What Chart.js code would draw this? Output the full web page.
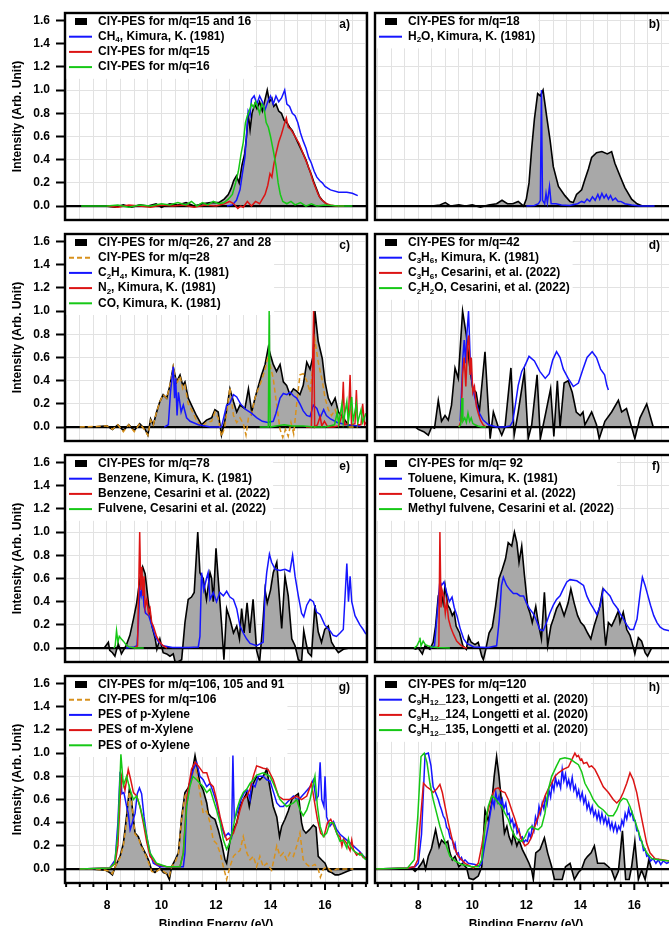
<!DOCTYPE html>
<html><head><meta charset="utf-8">
<script src="https://cdn.jsdelivr.net/npm/chart.js@4.4.0/dist/chart.umd.min.js"></script>
<style>
html,body{margin:0;padding:0;background:#fff;overflow:hidden;width:669px;height:926px;}
canvas{position:absolute;}
</style></head><body>
<script>
// ---------------- data: [binding energy (eV), intensity] ----------------
const a_ciy=[[7.0,0],[8.0,0],[8.3,-0.01],[8.6,0.01],[8.9,-0.01],[9.2,0.01],[9.5,0],[9.8,0.02],[10.0,-0.01],[10.3,0.02],[10.6,0.01],[10.9,0.03],[11.2,0.0],[11.5,0.02],[11.8,0.03],[12.1,0.03],[12.3,0.06],[12.45,0.1],[12.55,0.15],[12.65,0.22],[12.75,0.26],[12.85,0.2],[12.95,0.35],[13.05,0.45],[13.12,0.6],[13.18,0.8],[13.25,0.66],[13.32,0.8],[13.42,0.88],[13.5,0.84],[13.6,0.9],[13.7,0.82],[13.8,0.92],[13.88,1.0],[13.96,0.9],[14.05,0.93],[14.12,0.86],[14.2,0.88],[14.3,0.82],[14.4,0.8],[14.5,0.74],[14.6,0.72],[14.7,0.68],[14.8,0.65],[14.9,0.6],[15.0,0.55],[15.1,0.5],[15.2,0.45],[15.3,0.4],[15.4,0.33],[15.5,0.27],[15.6,0.2],[15.7,0.14],[15.8,0.08],[15.9,0.05],[16.0,0.03],[16.1,0.01],[16.2,0]];
const a_ch4=[[12.4,0],[12.6,0.01],[12.75,0.05],[12.88,0.14],[12.98,0.3],[13.06,0.42],[13.12,0.62],[13.18,0.82],[13.25,0.78],[13.3,0.92],[13.4,0.95],[13.5,0.88],[13.6,0.95],[13.7,0.9],[13.78,0.82],[13.9,0.9],[14.0,0.95],[14.1,0.88],[14.2,0.95],[14.3,0.9],[14.4,0.93],[14.52,1.0],[14.6,0.88],[14.7,0.86],[14.8,0.8],[14.9,0.78],[15.0,0.72],[15.1,0.63],[15.2,0.56],[15.3,0.5],[15.4,0.42],[15.5,0.37],[15.6,0.3],[15.7,0.25],[15.8,0.22],[15.9,0.2],[16.0,0.17],[16.2,0.14],[16.5,0.12],[16.8,0.12],[17.0,0.11],[17.2,0.09]];
const a_mq15=[[8.0,0],[8.4,-0.01],[8.8,0.01],[9.2,0],[9.6,-0.01],[10.0,0.01],[10.4,0],[10.8,0.01],[11.2,-0.01],[11.6,0.01],[12.0,0],[12.3,0.02],[12.5,0.04],[12.65,0.02],[12.8,-0.02],[12.9,0.0],[13.0,-0.01],[13.15,0.04],[13.3,0.0],[13.45,0.04],[13.6,0.02],[13.7,0.06],[13.8,0.1],[13.9,0.18],[13.98,0.28],[14.05,0.25],[14.12,0.36],[14.2,0.45],[14.3,0.55],[14.4,0.62],[14.5,0.7],[14.58,0.76],[14.65,0.68],[14.75,0.66],[14.85,0.62],[14.95,0.58],[15.05,0.54],[15.15,0.48],[15.25,0.42],[15.35,0.36],[15.45,0.3],[15.55,0.22],[15.65,0.16],[15.75,0.1],[15.85,0.06],[15.95,0.04],[16.05,0.02],[16.2,0.01],[16.4,0.0],[16.7,0]];
const a_mq16=[[7.05,0],[8.0,0.0],[8.4,0.01],[8.8,-0.01],[9.2,0.01],[9.6,0.0],[10.0,0.02],[10.3,0.01],[10.6,0.03],[10.9,0.01],[11.1,0.04],[11.3,0.0],[11.5,0.03],[11.7,0.01],[11.9,0.04],[12.1,0.02],[12.3,0.03],[12.45,0.06],[12.6,0.1],[12.72,0.2],[12.82,0.3],[12.92,0.45],[13.0,0.55],[13.08,0.72],[13.15,0.78],[13.22,0.82],[13.3,0.88],[13.38,0.85],[13.45,0.9],[13.52,0.86],[13.6,0.8],[13.68,0.88],[13.76,0.85],[13.84,0.72],[13.92,0.68],[14.0,0.6],[14.1,0.48],[14.2,0.35],[14.28,0.2],[14.36,0.1],[14.45,0.04],[14.6,0.02],[14.75,0.04],[14.9,0.01],[15.1,0.03],[15.3,0.0],[15.5,0.02],[15.7,0.0],[16.0,0.01],[16.5,0],[17.0,0]];

const b_ciy=[[6.4,0],[7.5,0],[8.0,0],[8.5,0.0],[8.8,0.01],[9.0,0.03],[9.2,0.0],[9.5,0.01],[9.75,0.0],[10.0,0.01],[10.3,-0.01],[10.6,0.01],[10.9,0.02],[11.1,0.05],[11.3,0.02],[11.5,0.02],[11.7,0.04],[11.9,0.0],[12.0,0.06],[12.1,0.2],[12.2,0.5],[12.3,0.75],[12.42,0.97],[12.52,0.95],[12.62,1.0],[12.75,0.78],[12.88,0.57],[13.0,0.34],[13.19,0.17],[13.43,0.09],[13.62,0.04],[13.74,0.03],[13.86,0.1],[14.05,0.14],[14.17,0.23],[14.3,0.32],[14.42,0.42],[14.6,0.46],[14.8,0.47],[15.0,0.45],[15.16,0.47],[15.28,0.37],[15.47,0.26],[15.65,0.16],[15.9,0.06],[16.1,0.02],[16.3,0.0],[16.45,0]];
const b_h2o=[[12.0,0],[12.3,0.005],[12.45,0.02],[12.52,0.05],[12.56,1.0],[12.6,0.05],[12.68,0.02],[12.73,0.11],[12.78,0.03],[12.86,0.17],[12.92,0.02],[13.1,0.02],[13.3,0.01],[13.6,0.005],[13.9,0.02],[14.05,0.04],[14.15,0.03],[14.25,0.06],[14.35,0.04],[14.45,0.08],[14.55,0.05],[14.65,0.1],[14.72,0.06],[14.8,0.11],[14.88,0.07],[14.96,0.1],[15.04,0.06],[15.12,0.09],[15.2,0.05],[15.3,0.07],[15.4,0.04],[15.5,0.04],[15.65,0.02],[15.9,0.01],[16.2,0.0],[16.75,0]];

const c_ciy=[[7.0,0],[7.5,0],[8.0,0.01],[8.2,-0.02],[8.4,0.02],[8.6,-0.03],[8.8,0.02],[9.0,-0.03],[9.2,0.03],[9.4,-0.02],[9.5,-0.07],[9.6,0.07],[9.7,0.02],[9.82,0.13],[9.94,0.22],[10.06,0.28],[10.19,0.25],[10.31,0.36],[10.43,0.52],[10.55,0.39],[10.68,0.45],[10.78,0.36],[10.86,0.39],[10.98,0.25],[11.1,0.19],[11.28,0.1],[11.47,0.02],[11.65,0.06],[11.84,0.08],[11.96,0.15],[12.08,0.13],[12.2,-0.07],[12.32,0.05],[12.51,0.33],[12.64,0.22],[12.76,0.13],[12.88,0.19],[13.06,0.16],[13.19,0.33],[13.31,0.13],[13.43,0.25],[13.55,0.35],[13.67,0.45],[13.8,0.54],[13.92,0.69],[14.0,0.62],[14.1,0.54],[14.22,0.48],[14.35,0.54],[14.47,0.39],[14.59,0.36],[14.71,0.28],[14.84,0.33],[14.96,0.31],[15.08,0.28],[15.2,0.36],[15.33,0.56],[15.45,0.5],[15.57,0.62],[15.63,1.0],[15.75,0.74],[15.9,0.59],[16.0,0.39],[16.12,0.25],[16.24,0.19],[16.37,0.25],[16.49,0.13],[16.67,0.08],[16.85,0.02],[17.1,0],[17.4,0]];
const c_mq28=[[7.0,0],[8.0,0.01],[8.2,-0.02],[8.4,0.02],[8.6,-0.04],[8.8,0.02],[9.0,-0.04],[9.2,0.03],[9.4,-0.03],[9.5,-0.07],[9.6,0.06],[9.7,0.02],[9.82,0.13],[9.94,0.22],[10.06,0.28],[10.19,0.25],[10.31,0.36],[10.43,0.52],[10.55,0.37],[10.68,0.44],[10.78,0.33],[10.86,0.36],[10.98,0.2],[11.1,0.15],[11.28,0.06],[11.47,0.0],[11.65,0.04],[11.84,0.05],[11.96,0.13],[12.08,0.08],[12.2,-0.08],[12.32,0.0],[12.51,0.34],[12.64,0.1],[12.76,0.04],[12.88,0.08],[13.0,0.03],[13.1,-0.07],[13.19,0.08],[13.31,0.12],[13.43,0.25],[13.55,0.33],[13.67,0.4],[13.8,0.5],[13.92,0.62],[14.0,0.52],[14.1,0.42],[14.22,0.2],[14.35,-0.02],[14.45,-0.09],[14.55,-0.02],[14.65,-0.08],[14.75,0.04],[14.85,-0.06],[14.96,0.2],[15.08,0.45],[15.2,0.46],[15.33,0.4],[15.45,0.3],[15.57,0.55],[15.63,0.75],[15.75,0.56],[15.9,0.4],[16.0,0.25],[16.12,0.15],[16.24,0.1],[16.37,0.15],[16.49,0.06],[16.67,0.04],[16.85,0.0],[17.2,0]];
const c_c2h4=[[10.1,0],[10.25,0.02],[10.33,0.3],[10.43,0.52],[10.48,0.25],[10.52,0.42],[10.57,0.1],[10.62,0.3],[10.72,0.13],[10.8,0.19],[10.92,0.08],[11.05,0.05],[11.35,0.02],[11.8,0.0],[12.2,0.0],[12.39,0.19],[12.5,0.2],[12.64,0.28],[12.76,0.26],[12.9,0.2],[13.1,0.15],[13.3,0.12],[13.5,0.08],[13.7,0.05],[13.9,0.04],[14.1,0.05],[14.2,0.12],[14.35,0.25],[14.47,0.29],[14.6,0.28],[14.72,0.3],[14.84,0.27],[14.96,0.25],[15.08,0.2],[15.2,0.14],[15.33,0.1],[15.45,0.09],[15.57,0.19],[15.7,0.16],[15.82,0.08],[15.95,0.15],[16.05,0.1],[16.2,0.07],[16.45,0.04],[16.8,0.02],[17.3,0.01]];
const c_n2=[[15.3,0],[15.5,0.0],[15.55,0.6],[15.58,1.0],[15.62,0.0],[15.72,0.02],[15.82,0.09],[15.88,0.01],[15.98,0.05],[16.1,0.0],[16.3,0.0],[16.5,0.01],[16.62,0.1],[16.67,0.39],[16.72,0.02],[16.85,0.03],[16.92,0.45],[16.97,0.02],[17.1,0.03],[17.15,0.32],[17.2,0.02],[17.32,0.02],[17.38,0.2],[17.45,0.02],[17.54,0.05]];
const c_co=[[13.6,0],[13.92,0.0],[13.95,1.0],[13.99,0.0],[14.2,0.01],[14.5,0.02],[14.8,0.01],[15.2,0.01],[15.6,0.0],[16.0,0.0],[16.35,0.02],[16.45,0.13],[16.5,0.03],[16.62,0.2],[16.67,0.04],[16.8,0.22],[16.85,0.04],[16.98,0.26],[17.03,0.05],[17.15,0.2],[17.2,0.04],[17.32,0.15],[17.38,0.04],[17.5,0.12]];

const d_ciy=[[6.4,0],[7.5,0],[7.9,0.0],[8.0,-0.02],[8.2,-0.04],[8.37,-0.07],[8.49,0.0],[8.6,-0.01],[8.74,0.23],[8.86,0.05],[8.99,0.1],[9.11,0.06],[9.23,0.19],[9.36,0.51],[9.48,0.42],[9.64,1.0],[9.78,0.79],[9.9,0.53],[10.02,0.33],[10.14,0.3],[10.26,0.13],[10.47,0.65],[10.6,0.13],[10.66,-0.1],[10.78,0.13],[10.96,0.0],[11.09,-0.07],[11.21,0.0],[11.43,0.51],[11.55,-0.07],[11.7,0.13],[11.93,0.48],[12.07,-0.1],[12.2,0.02],[12.4,0.45],[12.52,-0.1],[12.7,0.1],[12.9,0.33],[13.02,-0.08],[13.15,0.4],[13.25,0.0],[13.4,0.38],[13.55,0.4],[13.7,0.3],[13.85,0.13],[14.0,0.1],[14.1,0.13],[14.17,0.02],[14.42,0.13],[14.6,0.02],[14.7,-0.1],[14.91,0.05],[15.16,0.13],[15.41,0.23],[15.53,0.13],[15.71,0.16],[15.9,0.0],[16.02,-0.1],[16.21,0.08],[16.46,0.2],[16.7,0.0],[17.0,0],[17.6,0]];
const d_c3h6k=[[9.55,0.05],[9.6,0.3],[9.65,0.6],[9.7,0.75],[9.75,0.55],[9.8,0.8],[9.86,1.0],[9.92,0.6],[9.98,0.4],[10.05,0.3],[10.15,0.2],[10.26,0.12],[10.4,0.06],[10.6,0.02],[10.9,0.0],[11.2,0.0],[11.4,0.01],[11.5,0.05],[11.6,0.2],[11.7,0.36],[11.83,0.48],[11.95,0.53],[12.1,0.61],[12.3,0.57],[12.5,0.48],[12.7,0.42],[12.85,0.46],[12.98,0.58],[13.12,0.65],[13.25,0.6],[13.37,0.5],[13.55,0.42],[13.74,0.35],[13.93,0.38],[14.1,0.5],[14.25,0.6],[14.44,0.65],[14.6,0.6],[14.75,0.5],[14.9,0.45],[14.98,0.36],[15.04,0.32]];
const d_c3h6c=[[9.5,0],[9.58,0.05],[9.64,0.45],[9.7,0.6],[9.76,0.35],[9.82,0.7],[9.87,0.79],[9.92,0.45],[9.96,0.6],[10.02,0.3],[10.08,0.35],[10.15,0.18],[10.22,0.12],[10.3,0.06],[10.4,0.02],[10.5,0.0]];
const d_c2h2o=[[9.5,0],[9.57,0.02],[9.62,0.25],[9.65,0.05],[9.72,0.08],[9.78,0.04],[9.84,0.12],[9.9,0.05],[9.96,0.08],[10.02,0.03],[10.1,0.02],[10.2,0.01],[10.35,0.0],[10.5,0]];

const e_ciy=[[7.9,0],[8.05,0.05],[8.1,-0.02],[8.2,-0.04],[8.29,-0.07],[8.41,0.04],[8.53,-0.05],[8.7,0.02],[8.84,0.11],[8.97,0.25],[9.09,0.39],[9.21,0.6],[9.31,0.7],[9.4,0.64],[9.52,0.39],[9.65,0.19],[9.77,0.08],[9.83,-0.01],[9.94,0.08],[10.06,-0.04],[10.19,-0.05],[10.31,-0.07],[10.43,-0.05],[10.5,-0.12],[10.6,-0.12],[10.74,-0.1],[10.86,0.22],[10.98,0.42],[11.1,0.44],[11.2,0.48],[11.33,1.0],[11.41,0.65],[11.53,0.6],[11.65,0.42],[11.78,0.65],[11.84,0.6],[11.9,0.4],[12.0,0.86],[12.08,0.6],[12.2,0.22],[12.29,-0.1],[12.39,0.34],[12.51,0.25],[12.64,0.13],[12.76,0.19],[12.86,0.08],[12.94,0.34],[13.03,0.13],[13.14,0.39],[13.24,0.13],[13.36,0.42],[13.49,-0.02],[13.6,-0.12],[13.73,0.25],[13.8,0.5],[13.88,0.39],[14.0,0.5],[14.1,0.65],[14.23,0.74],[14.33,0.42],[14.41,0.17],[14.53,0.62],[14.65,0.45],[14.78,0.08],[14.9,0.02],[15.02,-0.1],[15.14,-0.12],[15.22,0.15],[15.3,0.05],[15.38,-0.04],[15.5,-0.07],[15.63,0.37],[15.75,0.14],[15.87,0.05],[15.99,0.16],[16.12,0.19],[16.24,0.05],[16.37,0.0],[16.49,-0.04],[16.67,-0.01],[16.9,0],[17.2,0]];
const e_benz_k=[[8.7,0],[9.0,0.01],[9.1,0.02],[9.15,0.2],[9.2,0.5],[9.25,0.45],[9.3,0.54],[9.36,0.36],[9.42,0.3],[9.53,0.28],[9.65,0.19],[9.77,0.1],[9.9,0.05],[10.06,0.02],[10.4,0.005],[11.0,0.005],[11.35,0.01],[11.41,0.1],[11.47,0.65],[11.55,0.5],[11.65,0.6],[11.71,0.65],[11.78,0.42],[11.9,0.48],[12.02,0.4],[12.14,0.48],[12.27,0.45],[12.39,0.49],[12.51,0.44],[12.64,0.42],[12.76,0.34],[12.88,0.19],[13.0,0.13],[13.12,0.08],[13.25,0.04],[13.49,0.02],[13.73,0.05],[13.8,0.5],[13.86,0.65],[13.96,0.81],[14.04,0.74],[14.17,0.68],[14.35,0.67],[14.53,0.68],[14.71,0.66],[14.81,0.8],[14.9,0.62],[15.02,0.45],[15.14,0.3],[15.22,0.27],[15.33,0.37],[15.45,0.42],[15.57,0.4],[15.69,0.31],[15.82,0.29],[15.99,0.2],[16.18,0.15],[16.3,0.11],[16.42,0.1],[16.55,0.13],[16.67,0.16],[16.8,0.73],[16.86,0.4],[16.92,0.62],[16.98,0.4],[17.1,0.28],[17.28,0.2],[17.4,0.16],[17.5,0.12]];
const e_benz_c=[[9.0,0],[9.12,0.02],[9.17,0.6],[9.2,1.0],[9.24,0.5],[9.28,0.7],[9.32,0.45],[9.36,0.62],[9.4,0.35],[9.46,0.42],[9.52,0.3],[9.58,0.34],[9.64,0.22],[9.7,0.19],[9.82,0.1],[9.94,0.05],[10.06,0.02],[10.2,0]];
const e_fulv=[[8.25,0],[8.3,0.02],[8.35,0.15],[8.4,0.05],[8.45,0.1],[8.52,0.08],[8.6,0.06],[8.7,0.03],[8.8,0.01],[9.0,0.0],[9.35,0]];

const f_ciy=[[7.8,0],[7.9,-0.01],[8.0,0.0],[8.15,-0.05],[8.25,0.02],[8.43,-0.01],[8.55,0.05],[8.64,0.19],[8.74,0.45],[8.83,0.51],[8.92,0.39],[8.99,0.54],[9.09,0.37],[9.17,0.34],[9.26,0.28],[9.33,0.31],[9.4,0.19],[9.53,0.13],[9.65,0.02],[9.78,-0.01],[9.86,0.1],[9.96,0.05],[10.1,0.03],[10.22,0.05],[10.35,-0.07],[10.41,-0.1],[10.5,-0.01],[10.62,0.13],[10.74,0.18],[10.86,0.36],[10.99,0.6],[11.11,0.68],[11.23,0.77],[11.33,0.91],[11.46,0.88],[11.56,1.0],[11.65,0.91],[11.73,0.74],[11.83,0.88],[11.93,0.63],[12.05,0.36],[12.14,0.3],[12.22,0.22],[12.35,0.36],[12.44,0.22],[12.56,0.08],[12.67,0.48],[12.79,0.02],[12.91,0.19],[13.0,0.25],[13.12,0.34],[13.24,0.39],[13.4,0.28],[13.55,0.39],[13.65,0.51],[13.77,0.39],[13.9,0.28],[14.02,0.22],[14.14,0.19],[14.27,0.13],[14.39,0.08],[14.51,0.19],[14.63,0.28],[14.72,0.36],[14.81,0.48],[14.88,0.19],[14.94,0.02],[15.04,0.22],[15.16,0.19],[15.28,0.25],[15.41,0.32],[15.47,0.22],[15.59,0.31],[15.72,0.16],[15.84,0.11],[15.96,0.01],[16.02,-0.05],[16.15,0.09],[16.27,0.06],[16.4,-0.04],[16.49,-0.07],[16.64,0.0],[17.0,0],[17.2,0]];
const f_tol_k=[[8.45,0],[8.6,0.02],[8.7,0.3],[8.8,0.58],[8.86,0.54],[8.95,0.57],[9.05,0.48],[9.15,0.4],[9.25,0.44],[9.33,0.35],[9.43,0.28],[9.55,0.17],[9.68,0.08],[9.8,0.04],[10.05,0.01],[10.6,0.005],[10.9,0.02],[11.0,0.25],[11.08,0.54],[11.15,0.61],[11.27,0.54],[11.4,0.5],[11.52,0.47],[11.65,0.47],[11.77,0.45],[11.9,0.45],[12.0,0.39],[12.12,0.34],[12.25,0.3],[12.37,0.24],[12.5,0.16],[12.63,0.15],[12.75,0.22],[12.87,0.3],[13.0,0.37],[13.12,0.42],[13.25,0.45],[13.37,0.51],[13.5,0.57],[13.62,0.59],[13.87,0.58],[14.12,0.54],[14.24,0.45],[14.36,0.39],[14.49,0.34],[14.61,0.29],[14.73,0.36],[14.86,0.51],[14.98,0.48],[15.1,0.45],[15.22,0.39],[15.35,0.35],[15.47,0.3],[15.6,0.25],[15.72,0.2],[15.84,0.16],[15.97,0.16],[16.1,0.25],[16.22,0.48],[16.3,0.61],[16.4,0.54],[16.47,0.48],[16.6,0.37],[16.72,0.28],[16.84,0.22],[16.96,0.18],[17.1,0.16],[17.3,0.15]];
const f_tol_c=[[8.7,0],[8.76,0.02],[8.8,1.0],[8.84,0.35],[8.88,0.5],[8.94,0.45],[9.0,0.3],[9.05,0.4],[9.12,0.25],[9.2,0.18],[9.3,0.12],[9.42,0.06],[9.55,0.03],[9.7,0.005],[9.8,0]];
const f_mfulv=[[7.85,0],[7.95,0.02],[8.03,0.06],[8.06,0.09],[8.1,0.02],[8.18,0.06],[8.26,0.03],[8.35,0.02],[8.5,0.01],[8.7,0.005],[9.17,0]];

const g_ciy=[[7.0,0],[7.5,0],[7.95,-0.01],[8.1,-0.03],[8.2,-0.05],[8.3,0.02],[8.48,0.11],[8.6,0.22],[8.72,0.46],[8.82,0.69],[8.9,0.6],[8.97,0.43],[9.03,0.31],[9.15,0.28],[9.27,0.2],[9.4,0.14],[9.52,0.08],[9.64,-0.01],[9.76,-0.03],[9.94,0.01],[10.07,-0.03],[10.19,-0.04],[10.29,-0.09],[10.37,0.02],[10.5,0.08],[10.62,0.14],[10.74,0.45],[10.86,0.66],[10.98,0.7],[11.1,0.8],[11.23,0.98],[11.31,0.88],[11.41,0.74],[11.53,0.68],[11.66,0.57],[11.72,0.48],[11.82,0.45],[11.96,0.43],[12.08,0.34],[12.2,0.23],[12.33,0.08],[12.39,0.05],[12.51,0.24],[12.64,0.34],[12.76,0.4],[12.88,0.54],[13.0,0.6],[13.13,0.66],[13.22,0.54],[13.37,0.74],[13.49,0.8],[13.61,0.77],[13.73,0.8],[13.86,0.86],[13.98,0.7],[14.1,0.54],[14.23,0.45],[14.33,0.28],[14.41,0.37],[14.53,0.43],[14.65,0.5],[14.78,0.6],[14.9,0.63],[15.02,0.65],[15.14,0.4],[15.2,0.34],[15.3,0.31],[15.43,0.34],[15.57,0.38],[15.67,0.36],[15.75,0.11],[15.87,0.08],[16.0,0.05],[16.12,-0.02],[16.24,-0.03],[16.37,-0.05],[16.49,-0.05],[16.61,-0.04],[16.8,-0.02],[17.04,0]];
const g_mq106=[[7.0,0],[7.5,0],[7.95,-0.01],[8.1,-0.02],[8.2,-0.04],[8.3,0.02],[8.48,0.1],[8.6,0.2],[8.72,0.42],[8.82,0.67],[8.9,0.58],[8.97,0.42],[9.03,0.3],[9.15,0.27],[9.27,0.19],[9.4,0.13],[9.52,0.06],[9.64,-0.02],[9.76,-0.03],[9.94,0.0],[10.07,-0.02],[10.19,-0.04],[10.29,-0.06],[10.37,0.02],[10.5,0.06],[10.62,0.13],[10.74,0.44],[10.86,0.63],[10.98,0.68],[11.1,0.77],[11.23,0.9],[11.31,0.8],[11.41,0.66],[11.53,0.48],[11.66,0.5],[11.78,0.4],[11.9,0.25],[12.02,0.22],[12.15,0.14],[12.27,0.02],[12.39,-0.09],[12.51,0.02],[12.64,0.11],[12.76,0.14],[12.88,0.16],[13.0,0.28],[13.13,0.14],[13.25,0.08],[13.37,0.11],[13.49,0.02],[13.61,0.11],[13.73,0.02],[13.86,0.05],[14.04,-0.01],[14.23,0.2],[14.35,0.11],[14.47,0.14],[14.59,0.08],[14.71,0.14],[14.84,0.11],[14.96,0.2],[15.08,0.31],[15.2,0.08],[15.33,0.04],[15.45,0.02],[15.63,0.04],[15.75,0.0],[15.83,-0.07],[15.94,0.0],[16.06,0.02],[16.24,-0.02],[16.43,0.0],[16.8,0],[17.04,0]];
const g_pxyl=[[7.0,0],[8.1,0.01],[8.3,0.08],[8.4,0.4],[8.48,0.84],[8.55,0.65],[8.62,0.66],[8.72,0.54],[8.78,0.48],[8.85,0.34],[8.93,0.4],[9.03,0.48],[9.11,0.65],[9.19,0.7],[9.27,0.65],[9.36,0.45],[9.46,0.28],[9.58,0.14],[9.7,0.05],[9.94,0.02],[10.5,0.02],[10.8,0.02],[10.86,0.14],[10.92,0.54],[11.04,0.74],[11.17,0.86],[11.29,0.92],[11.41,0.8],[11.53,0.77],[11.66,0.71],[11.78,0.74],[11.9,0.66],[12.02,0.57],[12.15,0.43],[12.24,0.34],[12.33,0.28],[12.45,0.31],[12.57,0.28],[12.62,0.98],[12.67,0.43],[12.8,0.5],[12.92,0.6],[13.04,0.66],[13.16,0.68],[13.25,0.6],[13.3,0.74],[13.43,0.71],[13.55,0.8],[13.73,0.8],[13.86,0.77],[13.98,0.76],[14.1,0.67],[14.23,0.57],[14.35,0.54],[14.47,0.54],[14.59,0.57],[14.71,0.6],[14.84,0.63],[14.96,0.6],[15.08,0.61],[15.27,0.66],[15.45,0.71],[15.57,0.77],[15.67,0.6],[15.75,0.63],[15.82,0.92],[15.88,0.6],[15.96,0.54],[16.0,0.8],[16.06,0.45],[16.18,0.37],[16.31,0.41],[16.43,0.34],[16.55,0.3],[16.8,0.25],[17.04,0.2],[17.28,0.15],[17.53,0.08]];
const g_mxyl=[[7.0,0],[8.1,0.01],[8.3,0.05],[8.4,0.2],[8.48,0.6],[8.54,0.8],[8.66,0.68],[8.78,0.86],[8.87,0.77],[8.97,0.66],[9.09,0.63],[9.21,0.54],[9.33,0.4],[9.46,0.23],[9.58,0.11],[9.82,0.04],[10.19,0.02],[10.68,0.02],[10.8,0.14],[10.92,0.6],[11.1,0.86],[11.23,0.92],[11.35,0.89],[11.53,0.83],[11.66,0.83],[11.78,0.74],[11.9,0.71],[12.02,0.6],[12.15,0.45],[12.27,0.34],[12.39,0.25],[12.51,0.27],[12.64,0.31],[12.76,0.4],[12.88,0.51],[13.0,0.6],[13.13,0.63],[13.25,0.69],[13.37,0.8],[13.49,0.89],[13.61,0.88],[13.73,0.87],[13.91,0.86],[14.1,0.77],[14.29,0.63],[14.47,0.6],[14.71,0.6],[14.96,0.63],[15.14,0.6],[15.33,0.63],[15.5,0.74],[15.6,0.6],[15.72,0.43],[15.84,0.31],[15.96,0.28],[16.09,0.4],[16.21,0.43],[16.33,0.37],[16.45,0.3],[16.55,0.28],[16.62,0.2],[16.68,0.26],[16.8,0.22],[16.92,0.16],[16.98,0.25],[17.04,0.17],[17.16,0.12],[17.28,0.14],[17.4,0.1],[17.53,0.1]];
const g_oxyl=[[7.0,0],[8.1,0.01],[8.28,0.05],[8.4,0.3],[8.51,0.99],[8.6,0.72],[8.72,0.8],[8.84,0.69],[8.97,0.6],[9.09,0.63],[9.21,0.54],[9.33,0.43],[9.46,0.28],[9.58,0.14],[9.82,0.05],[10.19,0.02],[10.68,0.02],[10.8,0.14],[10.92,0.54],[11.04,0.71],[11.15,0.8],[11.29,0.77],[11.41,0.74],[11.53,0.71],[11.66,0.66],[11.78,0.69],[11.9,0.6],[12.02,0.51],[12.15,0.4],[12.27,0.25],[12.39,0.17],[12.51,0.23],[12.64,0.37],[12.76,0.51],[12.88,0.6],[13.0,0.66],[13.13,0.69],[13.25,0.74],[13.37,0.77],[13.49,0.81],[13.73,0.83],[13.98,0.8],[14.1,0.74],[14.35,0.6],[14.59,0.54],[14.84,0.57],[14.96,0.6],[15.08,0.51],[15.2,0.46],[15.33,0.51],[15.45,0.6],[15.63,0.8],[15.72,0.54],[15.82,0.37],[15.94,0.28],[16.06,0.31],[16.18,0.4],[16.31,0.4],[16.43,0.31],[16.55,0.24],[16.67,0.25],[16.8,0.18],[16.86,0.26],[16.92,0.2],[17.04,0.16],[17.16,0.14],[17.28,0.12],[17.35,0.13],[17.45,0.09],[17.53,0.08]];

const h_ciy=[[6.4,0],[7.8,0],[7.88,-0.02],[8.0,0.01],[8.12,0.05],[8.19,0.08],[8.27,0.0],[8.37,0.11],[8.49,0.18],[8.64,0.34],[8.77,0.19],[8.86,0.25],[8.99,0.22],[9.09,0.24],[9.17,0.14],[9.26,0.08],[9.36,0.11],[9.5,0.02],[9.63,0.05],[9.79,0.01],[9.88,-0.08],[10.04,-0.09],[10.22,-0.06],[10.35,0.02],[10.47,0.51],[10.59,0.42],[10.72,0.57],[10.81,0.8],[10.9,0.97],[10.99,0.8],[11.11,0.51],[11.19,0.31],[11.28,0.37],[11.36,0.28],[11.46,0.22],[11.52,0.31],[11.65,0.2],[11.73,0.25],[11.85,0.17],[11.98,0.11],[12.1,0.05],[12.2,-0.01],[12.26,-0.09],[12.35,0.14],[12.51,0.17],[12.67,0.27],[12.79,0.14],[12.94,0.02],[13.04,-0.09],[13.19,-0.09],[13.33,-0.09],[13.45,0.02],[13.62,0.05],[13.78,-0.09],[13.93,-0.03],[14.05,0.0],[14.17,0.08],[14.27,0.11],[14.4,0.14],[14.52,0.2],[14.64,0.05],[14.79,0.05],[14.89,0.05],[15.04,0.02],[15.16,-0.01],[15.28,-0.09],[15.41,-0.02],[15.56,0.33],[15.68,-0.09],[15.81,-0.09],[15.9,0.02],[16.02,0.24],[16.15,-0.09],[16.27,-0.01],[16.4,-0.09],[16.54,0.08],[16.64,0.0],[17.0,0],[17.3,0]];
const h_123=[[6.4,0],[7.6,0.01],[7.88,0.02],[8.0,0.05],[8.12,0.3],[8.25,0.99],[8.37,1.0],[8.47,0.89],[8.55,0.71],[8.64,0.66],[8.74,0.6],[8.8,0.55],[8.86,0.51],[8.92,0.46],[8.99,0.43],[9.05,0.36],[9.11,0.34],[9.18,0.27],[9.26,0.25],[9.32,0.19],[9.36,0.22],[9.42,0.13],[9.48,0.14],[9.54,0.08],[9.6,0.1],[9.66,0.06],[9.73,0.08],[9.85,0.05],[10.1,0.04],[10.26,0.02],[10.35,0.05],[10.47,0.22],[10.59,0.37],[10.75,0.6],[10.81,0.54],[10.87,0.66],[10.93,0.58],[10.99,0.63],[11.05,0.55],[11.11,0.6],[11.17,0.52],[11.24,0.57],[11.3,0.47],[11.36,0.48],[11.42,0.4],[11.48,0.43],[11.54,0.36],[11.6,0.4],[11.66,0.31],[11.73,0.34],[11.79,0.27],[11.85,0.28],[11.91,0.23],[11.97,0.25],[12.04,0.24],[12.1,0.31],[12.16,0.27],[12.22,0.37],[12.28,0.33],[12.34,0.45],[12.4,0.4],[12.47,0.54],[12.53,0.48],[12.59,0.57],[12.65,0.52],[12.71,0.62],[12.77,0.56],[12.84,0.68],[12.9,0.62],[12.96,0.74],[13.02,0.68],[13.08,0.79],[13.14,0.72],[13.2,0.76],[13.27,0.7],[13.33,0.86],[13.39,0.76],[13.45,0.82],[13.51,0.72],[13.57,0.77],[13.63,0.7],[13.7,0.79],[13.76,0.68],[13.82,0.72],[13.88,0.63],[13.94,0.68],[14.0,0.6],[14.07,0.66],[14.13,0.57],[14.19,0.62],[14.25,0.52],[14.31,0.57],[14.38,0.49],[14.44,0.54],[14.5,0.46],[14.56,0.5],[14.62,0.43],[14.68,0.49],[14.74,0.41],[14.8,0.48],[14.87,0.4],[14.93,0.45],[14.99,0.38],[15.05,0.43],[15.11,0.35],[15.17,0.4],[15.23,0.33],[15.3,0.39],[15.36,0.32],[15.42,0.37],[15.48,0.34],[15.54,0.42],[15.6,0.38],[15.66,0.48],[15.72,0.43],[15.79,0.52],[15.85,0.46],[15.91,0.49],[15.97,0.42],[16.03,0.42],[16.09,0.33],[16.15,0.33],[16.21,0.25],[16.28,0.24],[16.34,0.16],[16.4,0.17],[16.46,0.11],[16.52,0.12],[16.6,0.07],[16.7,0.09],[16.8,0.05],[16.89,0.08],[16.98,0.04],[17.07,0.07],[17.2,0.05],[17.3,0.06]];
const h_124=[[6.4,0],[7.6,0.01],[7.85,0.02],[7.98,0.08],[8.07,0.4],[8.19,0.74],[8.31,0.71],[8.43,0.69],[8.55,0.66],[8.68,0.69],[8.8,0.73],[8.89,0.66],[8.99,0.54],[9.11,0.4],[9.23,0.28],[9.36,0.17],[9.48,0.11],[9.73,0.05],[10.04,0.01],[10.22,0.05],[10.35,0.2],[10.53,0.45],[10.72,0.63],[10.84,0.69],[10.96,0.7],[11.09,0.67],[11.21,0.66],[11.33,0.6],[11.46,0.51],[11.58,0.43],[11.7,0.34],[11.83,0.25],[11.95,0.2],[12.07,0.22],[12.2,0.28],[12.32,0.37],[12.44,0.45],[12.57,0.54],[12.69,0.63],[12.81,0.69],[12.94,0.74],[13.06,0.8],[13.19,0.83],[13.37,0.86],[13.56,0.88],[13.7,0.95],[13.8,1.0],[13.87,0.97],[13.93,0.98],[14.0,0.94],[14.05,0.95],[14.12,0.91],[14.24,0.92],[14.33,0.88],[14.42,0.89],[14.54,0.86],[14.67,0.8],[14.85,0.71],[15.04,0.66],[15.22,0.6],[15.35,0.57],[15.47,0.6],[15.59,0.66],[15.72,0.74],[15.84,0.83],[15.96,0.77],[16.09,0.66],[16.21,0.51],[16.33,0.37],[16.46,0.22],[16.58,0.14],[16.77,0.09],[17.02,0.08],[17.3,0.07]];
const h_135=[[6.4,0],[7.6,0.01],[7.85,0.08],[7.98,0.45],[8.1,0.97],[8.22,1.0],[8.32,0.92],[8.43,0.74],[8.55,0.6],[8.68,0.48],[8.8,0.37],[8.92,0.28],[9.04,0.2],[9.17,0.11],[9.36,0.07],[9.6,0.04],[9.98,0.02],[10.22,0.02],[10.35,0.08],[10.47,0.37],[10.59,0.54],[10.72,0.63],[10.84,0.61],[10.96,0.57],[11.09,0.54],[11.21,0.48],[11.33,0.43],[11.46,0.34],[11.58,0.28],[11.7,0.25],[11.83,0.24],[11.95,0.28],[12.07,0.34],[12.2,0.37],[12.32,0.35],[12.44,0.34],[12.57,0.37],[12.69,0.48],[12.81,0.68],[12.94,0.8],[13.12,0.89],[13.25,0.95],[13.43,0.96],[13.62,0.95],[13.8,0.92],[13.93,0.9],[14.05,0.84],[14.17,0.74],[14.36,0.66],[14.48,0.6],[14.67,0.54],[14.85,0.51],[15.04,0.46],[15.22,0.46],[15.35,0.51],[15.47,0.58],[15.59,0.61],[15.72,0.6],[15.84,0.54],[15.96,0.46],[16.09,0.37],[16.21,0.28],[16.33,0.2],[16.46,0.14],[16.65,0.09],[16.9,0.08],[17.3,0.07]];

// ---------------- labels ----------------
const X_TITLE='Binding Energy (eV)';
const Y_TITLE='Intensity (Arb. Unit)';
const X_TICK_LABELS=[8,10,12,14,16];

// ---------------- styles ----------------
const BLUE='#1515ff', RED='#dc1414', GREEN='#16c816', ORANGE='#d8911c', FILL='#a8a8a8', GRID='#e2e2e2';
const FAM='"Liberation Sans", Arial, Helvetica, sans-serif';
const MAINFONT='bold 12px '+FAM, SUBFONT='bold 8px '+FAM;

const PANELS=[
 {tag:'a)',col:0,row:0,series:[
  {label:'CIY-PES for m/q=15 and 16',data:a_ciy,kind:'ciy'},
  {label:'CH{4}, Kimura, K. (1981)',data:a_ch4,color:BLUE},
  {label:'CIY-PES for m/q=15',data:a_mq15,color:RED},
  {label:'CIY-PES for m/q=16',data:a_mq16,color:GREEN}]},
 {tag:'b)',col:1,row:0,series:[
  {label:'CIY-PES for m/q=18',data:b_ciy,kind:'ciy'},
  {label:'H{2}O, Kimura, K. (1981)',data:b_h2o,color:BLUE}]},
 {tag:'c)',col:0,row:1,series:[
  {label:'CIY-PES for m/q=26, 27 and 28',data:c_ciy,kind:'ciy'},
  {label:'CIY-PES for m/q=28',data:c_mq28,color:ORANGE,dash:true},
  {label:'C{2}H{4}, Kimura, K. (1981)',data:c_c2h4,color:BLUE},
  {label:'N{2}, Kimura, K. (1981)',data:c_n2,color:RED},
  {label:'CO, Kimura, K. (1981)',data:c_co,color:GREEN}]},
 {tag:'d)',col:1,row:1,series:[
  {label:'CIY-PES for m/q=42',data:d_ciy,kind:'ciy'},
  {label:'C{3}H{6}, Kimura, K. (1981)',data:d_c3h6k,color:BLUE},
  {label:'C{3}H{6}, Cesarini, et al. (2022)',data:d_c3h6c,color:RED},
  {label:'C{2}H{2}O, Cesarini, et al. (2022)',data:d_c2h2o,color:GREEN}]},
 {tag:'e)',col:0,row:2,series:[
  {label:'CIY-PES for m/q=78',data:e_ciy,kind:'ciy'},
  {label:'Benzene, Kimura, K. (1981)',data:e_benz_k,color:BLUE},
  {label:'Benzene, Cesarini et al. (2022)',data:e_benz_c,color:RED},
  {label:'Fulvene, Cesarini et al. (2022)',data:e_fulv,color:GREEN}]},
 {tag:'f)',col:1,row:2,series:[
  {label:'CIY-PES for m/q= 92',data:f_ciy,kind:'ciy'},
  {label:'Toluene, Kimura, K. (1981)',data:f_tol_k,color:BLUE},
  {label:'Toluene, Cesarini et al. (2022)',data:f_tol_c,color:RED},
  {label:'Methyl fulvene, Cesarini et al. (2022)',data:f_mfulv,color:GREEN}]},
 {tag:'g)',col:0,row:3,series:[
  {label:'CIY-PES for m/q=106, 105 and 91',data:g_ciy,kind:'ciy'},
  {label:'CIY-PES for m/q=106',data:g_mq106,color:ORANGE,dash:true},
  {label:'PES of p-Xylene',data:g_pxyl,color:BLUE},
  {label:'PES of m-Xylene',data:g_mxyl,color:RED},
  {label:'PES of o-Xylene',data:g_oxyl,color:GREEN}]},
 {tag:'h)',col:1,row:3,series:[
  {label:'CIY-PES for m/q=120',data:h_ciy,kind:'ciy'},
  {label:'C{9}H{12}_123, Longetti et al. (2020)',data:h_123,color:BLUE},
  {label:'C{9}H{12}_124, Longetti et al. (2020)',data:h_124,color:RED},
  {label:'C{9}H{12}_135, Longetti et al. (2020)',data:h_135,color:GREEN}]}
];

const X_RANGE=[[6.459,17.54],[6.396,17.581]];
const Y_MIN=-0.12, Y_MAX=1.665;
const ROW_TOP=[3,224,445,666];

Chart.defaults.font.family=FAM;
Chart.defaults.font.size=12;
Chart.defaults.font.weight='bold';
Chart.defaults.color='#000';

function richText(ctx,text,x,y,draw){
  const parts=text.split(/(\{\d+\})/);
  let cx=x;
  for(const p of parts){
    if(!p) continue;
    const m=p.match(/^\{(\d+)\}$/);
    if(m){ctx.font=SUBFONT; if(draw) ctx.fillText(m[1],cx,y+3.5); cx+=ctx.measureText(m[1]).width;}
    else {ctx.font=MAINFONT; if(draw) ctx.fillText(p,cx,y); cx+=ctx.measureText(p).width;}
  }
  return cx-x;
}

const deco={
  id:'panelDeco',
  beforeDatasetsDraw(chart,args,o){
    const ctx=chart.ctx, ca=chart.chartArea;
    ctx.save();
    ctx.textAlign='left'; ctx.textBaseline='middle';
    const rowH=15.2, x0=ca.left, y0=ca.top;
    let maxW=0;
    o.series.forEach(s=>{maxW=Math.max(maxW,richText(ctx,s.label,0,0,false));});
    ctx.fillStyle='#fff';
    ctx.fillRect(x0,y0,33+maxW+3,o.series.length*rowH+5);
    o.series.forEach((s,i)=>{
      const cy=y0+8.5+i*rowH;
      if(s.kind==='ciy'){ctx.fillStyle='#000';ctx.fillRect(x0+10,cy-3.5,12,7);}
      else{
        ctx.strokeStyle=s.color; ctx.lineWidth=2; ctx.setLineDash(s.dash?[5,3]:[]);
        ctx.beginPath(); ctx.moveTo(x0+4,cy); ctx.lineTo(x0+27,cy); ctx.stroke(); ctx.setLineDash([]);
      }
      ctx.fillStyle='#000';
      richText(ctx,s.label,x0+33,cy,true);
    });
    ctx.restore();
  },
  afterDatasetDraw(chart,args){
    if(args.index!==0) return;
    const ctx=chart.ctx, ca=chart.chartArea, y=chart.scales.y.getPixelForValue(0);
    ctx.save(); ctx.strokeStyle='#000'; ctx.lineWidth=2.2;
    ctx.beginPath(); ctx.moveTo(ca.left,y); ctx.lineTo(ca.right,y); ctx.stroke(); ctx.restore();
  },
  afterDraw(chart,args,o){
    const ctx=chart.ctx, ca=chart.chartArea;
    ctx.save();
    ctx.strokeStyle='#000'; ctx.lineWidth=2.4;
    ctx.strokeRect(ca.left,ca.top,ca.right-ca.left,ca.bottom-ca.top);
    if(o.bottomRow){
      const xs=chart.scales.x;
      ctx.lineWidth=2;
      ctx.beginPath();
      xs.ticks.forEach(t=>{
        const px=xs.getPixelForValue(t.value);
        const major=X_TICK_LABELS.some(v=>Math.abs(v-t.value)<1e-6);
        ctx.moveTo(px,ca.bottom); ctx.lineTo(px,ca.bottom+(major?7:4));
      });
      ctx.stroke();
    }
    ctx.fillStyle='#000'; ctx.font='bold 12px '+FAM; ctx.textAlign='right'; ctx.textBaseline='middle';
    ctx.fillText(o.tag,ca.right-17,ca.top+12);
    ctx.restore();
  }
};

PANELS.forEach(p=>{
  const bottomRow=p.row===3, left=p.col===0;
  const W=left?372:310, H=bottomRow?267:220;
  const c=document.createElement('canvas');
  c.width=W; c.height=H;
  c.style.left=(left?0:370)+'px'; c.style.top=ROW_TOP[p.row]+'px';
  c.style.width=W+'px'; c.style.height=H+'px';
  document.body.appendChild(c);
  const n=p.series.length;
  const datasets=p.series.map((s,i)=>({
    label:s.label.replace(/[{}]/g,''),
    data:s.data.map(q=>({x:q[0],y:q[1]})),
    borderColor:s.kind==='ciy'?'#000':s.color,
    backgroundColor:s.kind==='ciy'?FILL:s.color,
    fill:s.kind==='ciy'?'origin':false,
    borderWidth:s.kind==='ciy'?1.6:1.5,
    borderDash:s.dash?[5,3]:[],
    pointRadius:0, tension:0,
    order:s.kind==='ciy'?100:n-i
  }));
  new Chart(c,{
    type:'line',
    data:{datasets},
    plugins:[deco],
    options:{
      responsive:false, animation:false, devicePixelRatio:1,
      layout:{padding:{left:left?0:5,right:left?5:3,top:10,bottom:bottomRow?0:3}},
      plugins:{legend:{display:false},tooltip:{enabled:false},
        panelDeco:{series:p.series,tag:p.tag,bottomRow}},
      scales:{
        x:{type:'linear',min:X_RANGE[p.col][0],max:X_RANGE[p.col][1],
          border:{display:false},
          ticks:{display:bottomRow,stepSize:0.5,includeBounds:false,autoSkip:false,maxRotation:0,minRotation:0,padding:15,
            callback:v=>X_TICK_LABELS.some(t=>Math.abs(t-v)<1e-6)?String(Math.round(v)):''},
          grid:{color:GRID,lineWidth:1,drawTicks:false},
          title:{display:bottomRow,text:X_TITLE,padding:{top:0,bottom:1},font:{size:12,weight:'bold'}},
          afterFit:s=>{s.height=bottomRow?50:0; s.paddingLeft=0; s.paddingRight=0;}},
        y:{min:Y_MIN,max:Y_MAX,border:{display:false},
          ticks:{display:left,stepSize:0.2,includeBounds:false,padding:6,callback:v=>v.toFixed(1)},
          grid:{color:GRID,lineWidth:1,drawTicks:left,tickLength:9,tickColor:'#000',tickWidth:2},
          title:{display:left,text:Y_TITLE,padding:{top:10,bottom:0},font:{size:12,weight:'bold'}},
          afterFit:s=>{s.width=left?65:0; s.paddingTop=0; s.paddingBottom=0;}}
      }
    }
  });
});
</script>
</body></html>
